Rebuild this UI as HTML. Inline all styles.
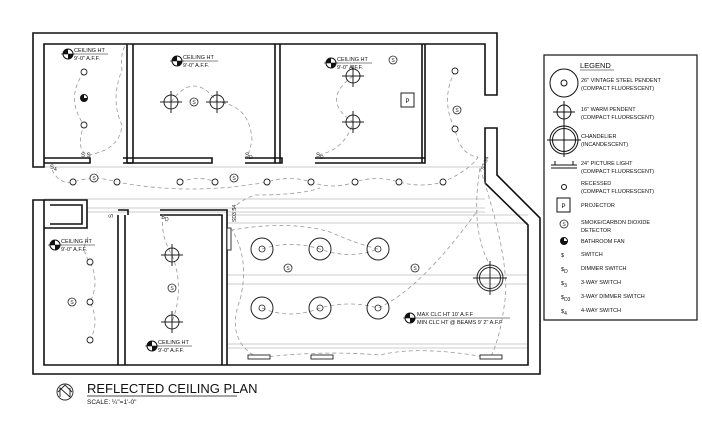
<!DOCTYPE html>
<html><head><meta charset="utf-8"><style>
html,body{margin:0;padding:0;background:#fff;}
svg{display:block;font-family:"Liberation Sans",Arial,sans-serif;}
</style></head><body>
<svg width="702" height="437" viewBox="0 0 702 437" xmlns="http://www.w3.org/2000/svg">
<defs>
<g id="pend"><circle r="11" fill="none" stroke="#222" stroke-width="1"/><circle r="3" fill="none" stroke="#222" stroke-width="0.8"/></g>
<g id="warm"><circle r="7" fill="none" stroke="#222" stroke-width="1"/><line x1="-11" y1="0" x2="11" y2="0" stroke="#222"/><line x1="0" y1="-11" x2="0" y2="11" stroke="#222"/></g>
<g id="rec"><circle r="3" fill="#fff" stroke="#222" stroke-width="0.9"/></g>
<g id="smk"><circle r="4" fill="#fff" stroke="#222" stroke-width="0.8"/><text x="0" y="2" font-size="5" text-anchor="middle" fill="#222">S</text></g>
<g id="fan"><circle r="3.5" fill="#fff" stroke="#111"/><path d="M0,0 L3.5,0 A3.5,3.5 0 0 1 -3.5,0 Z M0,0 L0,-3.5 A3.5 3.5 0 0 0 -3.5,0Z" fill="#111"/></g>
<g id="cht"><circle r="5" fill="#fff" stroke="#111"/><path d="M0,0 L5,0 A5,5 0 0 1 0,5 Z M0,0 L-5,0 A5 5 0 0 1 0,-5Z" fill="#111"/><line x1="-7" y1="0" x2="7" y2="0" stroke="#111" stroke-width="0.6"/></g>
</defs>
<rect width="702" height="437" fill="#fff"/>

<!-- beam lines -->
<g stroke="#bbb" stroke-width="0.8">
<line x1="87" y1="208" x2="485" y2="208"/><line x1="87" y1="212" x2="485" y2="212"/>
<line x1="227" y1="215" x2="528" y2="215"/><line x1="227" y1="223" x2="528" y2="223"/>
<line x1="227" y1="275" x2="528" y2="275"/><line x1="227" y1="284" x2="528" y2="284"/>
<line x1="227" y1="344" x2="528" y2="344"/><line x1="227" y1="348" x2="528" y2="348"/>
<line x1="44" y1="167" x2="485" y2="167"/><line x1="44" y1="199" x2="485" y2="199"/>
</g>

<!-- walls -->
<g fill="none" stroke="#111" stroke-width="1.6">
<path d="M33,167 V33 H497 V95 H485 V44 H44 V167 Z"/>
<path d="M485,128 H497 V175 L540,218 V374 H33 V200 H44 V365 H528 V225 L485,183 Z"/>
<path d="M127,44 V163 M133,44 V163 M127,163 H133"/>
<path d="M44,158 H90 V163 H44 M123,158 H212 V163 H123 M245,158 H282 V163 H245"/>
<path d="M275,44 V163 M280,44 V163"/>
<path d="M315,158 H425 V163 H315 M422,44 V163 M425,44 V163"/>
<path d="M44,200 H87 V228 H44 M50,205 H82 V224 H50"/>
<path d="M118,215 V365 M125,215 V365 M118,210 H128 V215 M160,210 H227 V365 M160,215 H222 V365"/>
</g>

<!-- dashed circuits -->
<g fill="none" stroke="#999" stroke-width="0.8" stroke-dasharray="4,3">
<path d="M84,72 Q65,98 84,125 Q75,150 88,155 Q120,150 122,125 Q110,100 122,70 Q120,50 127,44"/>
<path d="M171,102 Q194,70 217,102 Q250,105 252,140 Q250,150 248,155"/>
<path d="M353,76 Q320,100 353,122 Q345,150 318,155"/>
<path d="M455,71 Q440,100 455,129 Q460,155 478,157"/>
<path d="M52,170 Q60,185 73,182 Q95,175 117,182 Q190,196 267,182 Q290,175 311,182 Q333,190 355,182 Q377,175 399,182 Q421,188 443,182 Q470,170 478,157"/>
<path d="M180,182 Q200,175 215,182"/>
<path d="M232,210 Q240,200 255,195 Q300,195 320,188"/>
<path d="M480,168 Q470,230 490,265 M480,168 Q510,260 505,300 Q500,340 490,358 Q420,345 380,355 Q320,350 258,358 Q225,340 240,300 Q250,260 232,230 Q290,220 330,232 Q360,245 378,249"/>
<path d="M262,249 Q290,240 320,249 Q350,260 378,249 M262,308 Q290,320 320,308 Q350,300 378,308 Q420,290 478,210"/>
<path d="M88,237 Q80,250 90,262 Q100,282 90,302 Q100,322 90,340"/>
<path d="M163,215 Q160,235 172,255 Q185,288 172,322"/>
</g>

<!-- fixtures -->
<use href="#fan" x="84" y="98"/>
<use href="#rec" x="84" y="72"/><use href="#rec" x="84" y="125"/>
<use href="#warm" x="171" y="102"/><use href="#warm" x="217" y="102"/><use href="#smk" x="194" y="102"/>
<use href="#warm" x="353" y="76"/><use href="#warm" x="353" y="122"/><use href="#smk" x="393" y="60"/>
<rect x="401" y="93" width="13" height="14" fill="#fff" stroke="#222"/><text x="407.5" y="103" font-size="6" text-anchor="middle">P</text>
<use href="#rec" x="455" y="71"/><use href="#rec" x="455" y="129"/><use href="#smk" x="457" y="110"/>
<use href="#rec" x="73" y="182"/><use href="#rec" x="117" y="182"/><use href="#rec" x="180" y="182"/><use href="#rec" x="215" y="182"/><use href="#rec" x="267" y="182"/><use href="#rec" x="311" y="182"/><use href="#rec" x="355" y="182"/><use href="#rec" x="399" y="182"/><use href="#rec" x="443" y="182"/>
<use href="#smk" x="94" y="178"/><use href="#smk" x="234" y="178"/>
<use href="#rec" x="90" y="262"/><use href="#rec" x="90" y="302"/><use href="#rec" x="90" y="340"/><use href="#smk" x="72" y="302"/>
<use href="#warm" x="172" y="255"/><use href="#warm" x="172" y="322"/><use href="#smk" x="172" y="288"/>
<use href="#pend" x="262" y="249"/><use href="#pend" x="320" y="249"/><use href="#pend" x="378" y="249"/>
<use href="#pend" x="262" y="308"/><use href="#pend" x="320" y="308"/><use href="#pend" x="378" y="308"/>
<use href="#smk" x="288" y="268"/><use href="#smk" x="415" y="268"/>
<g stroke="#222" fill="none"><circle cx="490" cy="278" r="13"/><circle cx="490" cy="278" r="10.5"/><line x1="473" y1="278" x2="507" y2="278"/><line x1="490" y1="261" x2="490" y2="295"/></g>
<g fill="#fff" stroke="#222" stroke-width="0.9">
<rect x="227" y="228" width="4" height="22"/><rect x="248" y="355" width="22" height="4"/><rect x="311" y="355" width="22" height="4"/><rect x="480" y="355" width="22" height="4"/>
</g>

<!-- switches -->
<g font-size="6" fill="#222">
<text x="81" y="157">S S</text><text x="245" y="157">S<tspan font-size="5" dy="2">D</tspan></text>
<text x="316" y="157">S<tspan font-size="5" dy="2">D</tspan></text>
<text x="50" y="169">S<tspan font-size="5" dy="2">4</tspan></text>
<text x="161" y="219">S<tspan font-size="5" dy="2">D</tspan></text>
<text x="113" y="218" transform="rotate(-90 113 218)">S</text>
<text x="236" y="222" transform="rotate(-90 236 222)" font-size="5">SD3 S4</text>
<text x="484" y="170" transform="rotate(-70 484 170)" font-size="5">S3 S4</text>
</g>

<!-- ceiling ht labels -->
<g font-size="5.5" fill="#111">
<use href="#cht" x="68" y="54"/><text x="74" y="52">CEILING HT</text><line x1="74" y1="54" x2="108" y2="54" stroke="#111" stroke-width="0.6"/><text x="74" y="60">9'-0" A.F.F.</text>
<use href="#cht" x="177" y="61"/><text x="183" y="59">CEILING HT</text><line x1="183" y1="61" x2="218" y2="61" stroke="#111" stroke-width="0.6"/><text x="183" y="67">9'-0" A.F.F.</text>
<use href="#cht" x="331" y="63"/><text x="337" y="61">CEILING HT</text><line x1="337" y1="63" x2="372" y2="63" stroke="#111" stroke-width="0.6"/><text x="337" y="69">9'-0" A.F.F.</text>
<use href="#cht" x="55" y="245"/><text x="61" y="243">CEILING HT</text><line x1="61" y1="245" x2="95" y2="245" stroke="#111" stroke-width="0.6"/><text x="61" y="251">9'-0" A.F.F.</text>
<use href="#cht" x="152" y="346"/><text x="158" y="344">CEILING HT</text><line x1="158" y1="346" x2="192" y2="346" stroke="#111" stroke-width="0.6"/><text x="158" y="352">9'-0" A.F.F.</text>
<use href="#cht" x="410" y="318"/><text x="417" y="316">MAX CLC HT 10' A.F.F</text><line x1="417" y1="318" x2="510" y2="318" stroke="#111" stroke-width="0.6"/><text x="417" y="324">MIN CLC HT @ BEAMS 9' 2" A.F.F</text>
</g>

<!-- legend -->
<rect x="544" y="55" width="153" height="265" fill="#fff" stroke="#111" stroke-width="1.2"/>
<g fill="#111">
<text x="580" y="68" font-size="7.5">LEGEND</text><line x1="580" y1="70" x2="614" y2="70" stroke="#111" stroke-width="0.6"/>
<g font-size="5.5">
<text x="581" y="82">26" VINTAGE STEEL PENDENT</text><text x="581" y="90">(COMPACT FLUORESCENT)</text>
<text x="581" y="111">16" WARM PENDENT</text><text x="581" y="119">(COMPACT FLUORESCENT)</text>
<text x="581" y="138">CHANDELIER</text><text x="581" y="146">(INCANDESCENT)</text>
<text x="581" y="165">24" PICTURE LIGHT</text><text x="581" y="173">(COMPACT FLUORESCENT)</text>
<text x="581" y="185">RECESSED</text><text x="581" y="193">(COMPACT FLUORESCENT)</text>
<text x="581" y="207">PROJECTOR</text>
<text x="581" y="224">SMOKE/CARBON DIOXIDE</text><text x="581" y="232">DETECTOR</text>
<text x="581" y="243">BATHROOM FAN</text>
<text x="581" y="256">SWITCH</text><text x="581" y="270">DIMMER SWITCH</text>
<text x="581" y="284">3-WAY SWITCH</text><text x="581" y="298">3-WAY DIMMER SWITCH</text><text x="581" y="312">4-WAY SWITCH</text>
<text x="561" y="257">$</text><text x="561" y="271">$<tspan font-size="5" dy="2">D</tspan></text>
<text x="561" y="285">$<tspan font-size="5" dy="2">3</tspan></text><text x="561" y="299">$<tspan font-size="5" dy="2">D3</tspan></text>
<text x="561" y="313">$<tspan font-size="5" dy="2">4</tspan></text>
</g>
</g>
<g fill="none" stroke="#111">
<circle cx="564" cy="83" r="14"/><circle cx="564" cy="83" r="3"/>
<circle cx="564" cy="112" r="7"/><line x1="553" y1="112" x2="575" y2="112"/><line x1="564" y1="101" x2="564" y2="123"/>
<circle cx="564" cy="140" r="14"/><circle cx="564" cy="140" r="11.5"/><line x1="547" y1="140" x2="581" y2="140"/><line x1="564" y1="123" x2="564" y2="157"/>
<path d="M551,168 H577 M551,165 H577 M555,165 V161 M573,165 V161"/>
<circle cx="564" cy="187" r="2.5"/>
<rect x="557" y="198" width="13" height="14"/>
</g>
<text x="563.5" y="208" font-size="6" text-anchor="middle">P</text>
<use href="#smk" x="564" y="224"/><use href="#fan" x="564" y="241"/>

<!-- title -->
<g fill="none" stroke="#222" stroke-width="0.9"><circle cx="65" cy="392" r="8"/><path d="M60,397 V388 L70,397 V388 M58,392 L65,385 L72,392"/></g>
<text x="87" y="393" font-size="13" fill="#111">REFLECTED CEILING PLAN</text>
<line x1="87" y1="396" x2="237" y2="396" stroke="#111" stroke-width="0.8"/>
<text x="87" y="404" font-size="6.5" fill="#111">SCALE: ¼"=1'-0"</text>
</svg>
</body></html>
